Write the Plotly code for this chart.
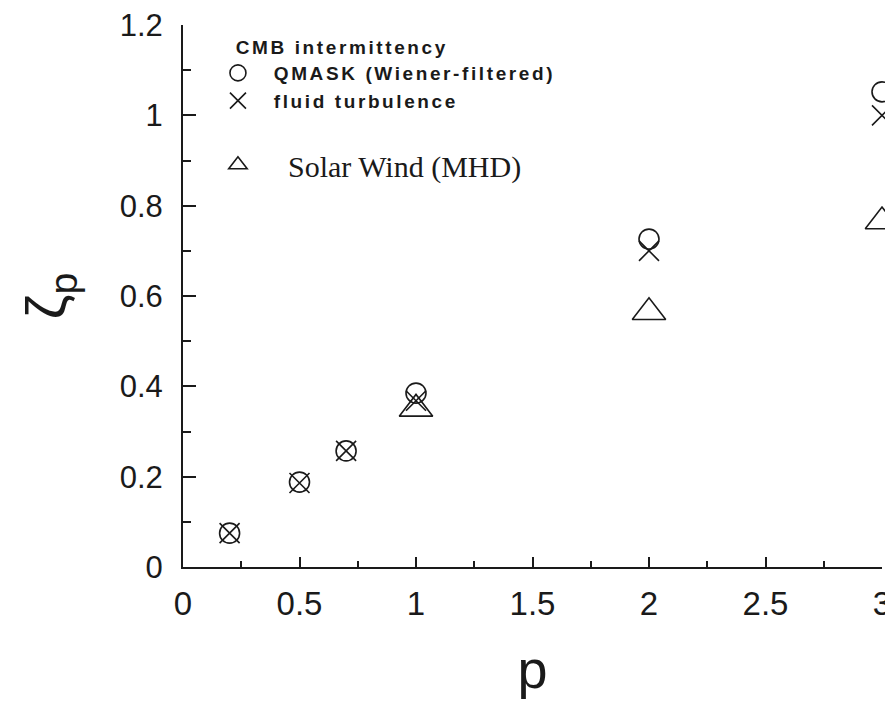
import plotly.graph_objects as go

# Data
p_qmask = [0.2, 0.5, 0.7, 1.0, 2.0, 3.0]
zeta_qmask = [0.075, 0.188, 0.257, 0.385, 0.726, 1.052]

p_fluid = [0.2, 0.5, 0.7, 1.0, 2.0, 3.0]
zeta_fluid = [0.075, 0.186, 0.257, 0.368, 0.70, 1.0]

p_solar = [1.0, 2.0, 3.0]
zeta_solar = [0.35, 0.564, 0.765]

x_ticks = [0, 0.5, 1, 1.5, 2, 2.5, 3]
x_ticklabels = ["0", "0.5", "1", "1.5", "2", "2.5", "3"]
y_ticks = [0, 0.2, 0.4, 0.6, 0.8, 1.0, 1.2]
y_ticklabels = ["0", "0.2", "0.4", "0.6", "0.8", "1", "1.2"]

name_qmask = "QMASK (Wiener-filtered)"
name_fluid = "fluid turbulence"
name_solar = "Solar Wind (MHD)"
legend_title = "CMB intermittency"

INK = "#1a1a1a"
SANS = "Liberation Sans, Arial, Helvetica, sans-serif"
SERIF = "Liberation Serif, Times New Roman, serif"
NB = "\u00a0"

def spaced(t, px):
    return "<span style='letter-spacing:%spx'>%s</span>" % (px, t)

fig = go.Figure()

fig.add_trace(go.Scatter(
    x=p_qmask, y=zeta_qmask, mode="markers",
    name=NB * 3 + spaced(name_qmask, 2.6),
    marker=dict(symbol="circle-open", size=20, color=INK, line=dict(width=1.6, color=INK)),
    cliponaxis=False, legend="legend",
))
fig.add_trace(go.Scatter(
    x=p_fluid, y=zeta_fluid, mode="markers",
    name=NB * 3 + spaced(name_fluid, 2.6),
    marker=dict(symbol="x-thin-open", size=20, color=INK, line=dict(width=1.6, color=INK)),
    cliponaxis=False, legend="legend",
))
fig.add_trace(go.Scatter(
    x=p_solar, y=zeta_solar, mode="markers",
    name=NB * 4 + name_solar,
    marker=dict(symbol="triangle-up-open", size=29, color=INK, line=dict(width=1.6, color=INK)),
    cliponaxis=False, legend="legend2",
))

fig.update_layout(
    width=893, height=702,
    margin=dict(l=175, r=19, t=17, b=143),
    paper_bgcolor="white", plot_bgcolor="white",
    font=dict(family=SANS, color=INK),
    showlegend=True,
    legend=dict(
        x=0.05, y=0.992, xanchor="left", yanchor="top",
        bgcolor="rgba(0,0,0,0)", borderwidth=0,
        font=dict(family=SANS, size=19, color=INK, weight="bold"),
        title=dict(text=NB * 3 + spaced(legend_title, 2.6),
                   font=dict(family=SANS, size=19, color=INK, weight="bold"), side="top"),
        tracegroupgap=0,
    ),
    legend2=dict(
        x=0.05, y=0.79, xanchor="left", yanchor="top",
        bgcolor="rgba(0,0,0,0)", borderwidth=0,
        font=dict(family=SERIF, size=30, color=INK),
    ),
)

fig.update_xaxes(
    range=[0, 3], tickmode="array", tickvals=x_ticks, ticktext=x_ticklabels,
    automargin=False, ticklabeloverflow="allow",
    showline=True, linecolor=INK, linewidth=2, mirror=False,
    ticks="inside", ticklen=10, tickwidth=2, tickcolor=INK,
    minor=dict(ticks="inside", ticklen=6, tickwidth=2, tickcolor=INK, dtick=0.25, tick0=0),
    showgrid=False, zeroline=False,
    tickfont=dict(family=SANS, size=33, color=INK),
    ticklabelstandoff=6,
    title=dict(text="p", font=dict(family=SANS, size=54, color=INK), standoff=30),
)
fig.update_yaxes(
    range=[0, 1.2], tickmode="array", tickvals=y_ticks, ticktext=y_ticklabels,
    automargin=False, ticklabeloverflow="allow",
    showline=True, linecolor=INK, linewidth=2, mirror=False,
    ticks="inside", ticklen=13, tickwidth=2, tickcolor=INK,
    minor=dict(ticks="inside", ticklen=8, tickwidth=2, tickcolor=INK, dtick=0.1, tick0=0),
    showgrid=False, zeroline=False,
    tickfont=dict(family=SANS, size=31, color=INK),
    ticklabelstandoff=12,
    title=dict(text="ζ<sub>p</sub>", font=dict(family=SANS, size=56, color=INK), standoff=36),
)

fig.write_html("out.html")
